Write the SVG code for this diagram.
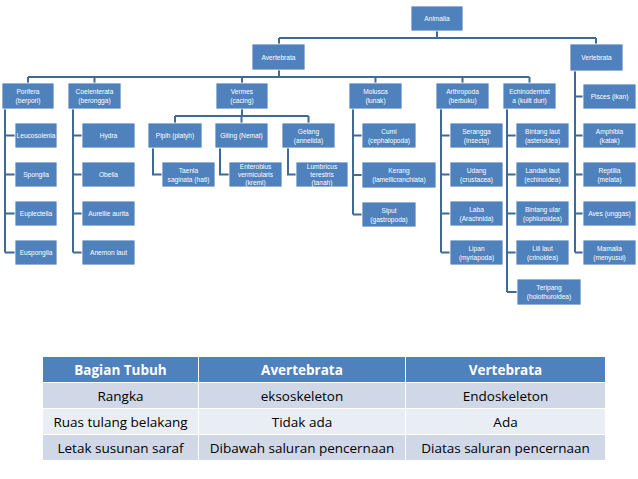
<svg xmlns="http://www.w3.org/2000/svg" width="638" height="479" viewBox="0 0 638 479">
<style>
.b{fill:#4f81bd;stroke:#ffffff;stroke-width:0.8}
.t{fill:#ffffff;font-family:"Liberation Sans",Arial,sans-serif;font-size:6.6px;text-anchor:middle}
.c{fill:none;stroke:#3f6a98;stroke-width:2}
.th{fill:#ffffff;font-family:"Open Sans","Liberation Sans",sans-serif;font-size:13.5px;font-weight:bold;text-anchor:middle}
.td{fill:#000000;font-family:"Open Sans","Liberation Sans",sans-serif;font-size:13.5px;text-anchor:middle}
</style>
<rect width="638" height="479" fill="#ffffff"/>
<g id="connectors">
<path class="c" d="M437,31V38M279,38H596M279,38V44M596,38V44"/>
<path class="c" d="M279,70V77M28,77H529.5M28,77V83M94.5,77V83M242,77V83M375.5,77V83M462.5,77V83M529.5,77V83"/>
<path class="c" d="M575,71V252.5M575,96.5H583M575,135.5H583M575,174.5H583M575,213.5H583M575,252.5H583"/>
<path class="c" d="M5,109V252.5M5,135.5H15M5,174.5H15M5,213.5H15M5,252.5H15"/>
<path class="c" d="M73,109V252.5M73,135.5H82M73,174.5H82M73,213.5H82M73,252.5H82"/>
<path class="c" d="M242,109V116M175,116H308.5M175,116V123M241.5,116V123M308.5,116V123"/>
<path class="c" d="M153,148V174.5H162M220,148V174.5H229M288,148V174.5H296"/>
<path class="c" d="M353,109V214.5M353,135.5H362M353,175H362M353,214.5H362"/>
<path class="c" d="M441,109V252.5M441,135.5H450M441,174.5H450M441,213.5H450M441,252.5H450"/>
<path class="c" d="M507,109V292M507,135.5H516M507,174.5H516M507,213.5H516M507,252.5H516M507,292H517"/>
</g>
<g id="animalia"><rect class="b" x="411" y="6" width="52" height="25"/><text class="t" x="437" y="21">Animalia</text></g>
<g id="avertebrata"><rect class="b" x="252" y="44" width="53" height="26"/><text class="t" x="278.5" y="59.5">Avertebrata</text></g>
<g id="vertebrata"><rect class="b" x="570" y="44" width="53" height="27"/><text class="t" x="596.5" y="60">Vertebrata</text></g>
<g id="porifera"><rect class="b" x="2" y="83" width="52" height="26"/><text class="t" x="28" y="94">Porifera</text><text class="t" x="28" y="103">(berpori)</text></g>
<g id="coelenterata"><rect class="b" x="68" y="83" width="53" height="26"/><text class="t" x="94.5" y="94">Coelenterata</text><text class="t" x="94.5" y="103">(berongga)</text></g>
<g id="vermes"><rect class="b" x="216" y="83" width="52" height="26"/><text class="t" x="242" y="94">Vermes</text><text class="t" x="242" y="103">(cacing)</text></g>
<g id="molusca"><rect class="b" x="349" y="83" width="53" height="26"/><text class="t" x="375.5" y="94">Molusca</text><text class="t" x="375.5" y="103">(lunak)</text></g>
<g id="arthropoda"><rect class="b" x="436" y="83" width="53" height="26"/><text class="t" x="462.5" y="94">Arthropoda</text><text class="t" x="462.5" y="103">(berbuku)</text></g>
<g id="echinodermata"><rect class="b" x="503" y="83" width="53" height="26"/><text class="t" x="529.5" y="94">Echinodermat</text><text class="t" x="529.5" y="103">a (kulit duri)</text></g>
<g id="pisces"><rect class="b" x="583" y="84" width="53" height="25"/><text class="t" x="609.5" y="99">Pisces (ikan)</text></g>
<g id="amphibia"><rect class="b" x="583" y="123" width="53" height="25"/><text class="t" x="609.5" y="133.5">Amphibia</text><text class="t" x="609.5" y="142.5">(katak)</text></g>
<g id="reptilia"><rect class="b" x="583" y="162" width="53" height="25"/><text class="t" x="609.5" y="172.5">Reptilia</text><text class="t" x="609.5" y="181.5">(melata)</text></g>
<g id="aves"><rect class="b" x="583" y="201" width="53" height="25"/><text class="t" x="609.5" y="216">Aves (unggas)</text></g>
<g id="mamalia"><rect class="b" x="583" y="240" width="53" height="25"/><text class="t" x="609.5" y="250.5">Mamalia</text><text class="t" x="609.5" y="259.5">(menyusui)</text></g>
<g id="leucosolenia"><rect class="b" x="15" y="123" width="42" height="25"/><text class="t" x="36" y="138">Leucosolenia</text></g>
<g id="spongila"><rect class="b" x="15" y="162" width="42" height="25"/><text class="t" x="36" y="177">Spongila</text></g>
<g id="euplectella"><rect class="b" x="15" y="201" width="42" height="25"/><text class="t" x="36" y="216">Euplectella</text></g>
<g id="euspongila"><rect class="b" x="15" y="240" width="42" height="25"/><text class="t" x="36" y="255">Euspongila</text></g>
<g id="hydra"><rect class="b" x="82" y="123" width="53" height="25"/><text class="t" x="108.5" y="138">Hydra</text></g>
<g id="obelia"><rect class="b" x="82" y="162" width="53" height="25"/><text class="t" x="108.5" y="177">Obelia</text></g>
<g id="aurellie"><rect class="b" x="82" y="201" width="53" height="25"/><text class="t" x="108.5" y="216">Aurellie aurita</text></g>
<g id="anemon"><rect class="b" x="82" y="240" width="53" height="25"/><text class="t" x="108.5" y="255">Anemon laut</text></g>
<g id="pipih"><rect class="b" x="148" y="123" width="54" height="25"/><text class="t" x="175" y="138">Pipih (platyh)</text></g>
<g id="giling"><rect class="b" x="215" y="123" width="53" height="25"/><text class="t" x="241.5" y="138">Giling (Nemat)</text></g>
<g id="gelang"><rect class="b" x="282" y="123" width="53" height="25"/><text class="t" x="308.5" y="133.5">Gelang</text><text class="t" x="308.5" y="142.5">(annelida)</text></g>
<g id="taenia"><rect class="b" x="162" y="162" width="53" height="25"/><text class="t" x="188.5" y="172.5">Taenia</text><text class="t" x="188.5" y="181.5">saginata (hati)</text></g>
<g id="enterobius"><rect class="b" x="229" y="162" width="53" height="25"/><text class="t" x="255.5" y="169">Enterobius</text><text class="t" x="255.5" y="177">vermicularis</text><text class="t" x="255.5" y="185">(kremi)</text></g>
<g id="lumbricus"><rect class="b" x="296" y="162" width="52" height="25"/><text class="t" x="322" y="169">Lumbricus</text><text class="t" x="322" y="177">terestris</text><text class="t" x="322" y="185">(tanah)</text></g>
<g id="cumi"><rect class="b" x="362" y="123" width="54" height="25"/><text class="t" x="389" y="133.5">Cumi</text><text class="t" x="389" y="142.5">(cephalopoda)</text></g>
<g id="kerang"><rect class="b" x="362" y="162" width="74" height="26"/><text class="t" x="399" y="173">Kerang</text><text class="t" x="399" y="182">(lamellicranchiata)</text></g>
<g id="siput"><rect class="b" x="362" y="202" width="54" height="25"/><text class="t" x="389" y="212.5">Siput</text><text class="t" x="389" y="221.5">(gastropoda)</text></g>
<g id="serangga"><rect class="b" x="450" y="123" width="53" height="25"/><text class="t" x="476.5" y="133.5">Serangga</text><text class="t" x="476.5" y="142.5">(insecta)</text></g>
<g id="udang"><rect class="b" x="450" y="162" width="53" height="25"/><text class="t" x="476.5" y="172.5">Udang</text><text class="t" x="476.5" y="181.5">(crustacea)</text></g>
<g id="laba"><rect class="b" x="450" y="201" width="53" height="25"/><text class="t" x="476.5" y="211.5">Laba</text><text class="t" x="476.5" y="220.5">(Arachnida)</text></g>
<g id="lipan"><rect class="b" x="450" y="240" width="53" height="25"/><text class="t" x="476.5" y="250.5">Lipan</text><text class="t" x="476.5" y="259.5">(myriapoda)</text></g>
<g id="bintanglaut"><rect class="b" x="516" y="123" width="53" height="25"/><text class="t" x="542.5" y="133.5">Bintang laut</text><text class="t" x="542.5" y="142.5">(asteroidea)</text></g>
<g id="landaklaut"><rect class="b" x="516" y="162" width="53" height="25"/><text class="t" x="542.5" y="172.5">Landak laut</text><text class="t" x="542.5" y="181.5">(echinoidea)</text></g>
<g id="bintangular"><rect class="b" x="516" y="201" width="53" height="25"/><text class="t" x="542.5" y="211.5">Bintang ular</text><text class="t" x="542.5" y="220.5">(ophiuroidea)</text></g>
<g id="lililaut"><rect class="b" x="516" y="240" width="53" height="25"/><text class="t" x="542.5" y="250.5">Lili laut</text><text class="t" x="542.5" y="259.5">(crinoidea)</text></g>
<g id="teripang"><rect class="b" x="517" y="279" width="64" height="26"/><text class="t" x="549" y="289.5">Teripang</text><text class="t" x="549" y="298.5">(holothuroidea)</text></g>
<g id="table">
<rect x="43" y="357" width="155" height="25" fill="#4f81bd"/>
<rect x="199" y="357" width="206" height="25" fill="#4f81bd"/>
<rect x="406" y="357" width="199" height="25" fill="#4f81bd"/>
<rect x="43" y="383" width="155" height="25" fill="#d0d8e8"/>
<rect x="199" y="383" width="206" height="25" fill="#d0d8e8"/>
<rect x="406" y="383" width="199" height="25" fill="#d0d8e8"/>
<rect x="43" y="409" width="155" height="25" fill="#e9edf4"/>
<rect x="199" y="409" width="206" height="25" fill="#e9edf4"/>
<rect x="406" y="409" width="199" height="25" fill="#e9edf4"/>
<rect x="43" y="435" width="155" height="25" fill="#d0d8e8"/>
<rect x="199" y="435" width="206" height="25" fill="#d0d8e8"/>
<rect x="406" y="435" width="199" height="25" fill="#d0d8e8"/>
<text class="th" x="120.5" y="374.5">Bagian Tubuh</text>
<text class="th" x="302" y="374.5">Avertebrata</text>
<text class="th" x="505.5" y="374.5">Vertebrata</text>
<text class="td" x="120.5" y="400.5">Rangka</text>
<text class="td" x="302" y="400.5">eksoskeleton</text>
<text class="td" x="505.5" y="400.5">Endoskeleton</text>
<text class="td" x="120.5" y="426.5">Ruas tulang belakang</text>
<text class="td" x="302" y="426.5">Tidak ada</text>
<text class="td" x="505.5" y="426.5">Ada</text>
<text class="td" x="120.5" y="452.5">Letak susunan saraf</text>
<text class="td" x="302" y="452.5">Dibawah saluran pencernaan</text>
<text class="td" x="505.5" y="452.5">Diatas saluran pencernaan</text>
</g>
</svg>
